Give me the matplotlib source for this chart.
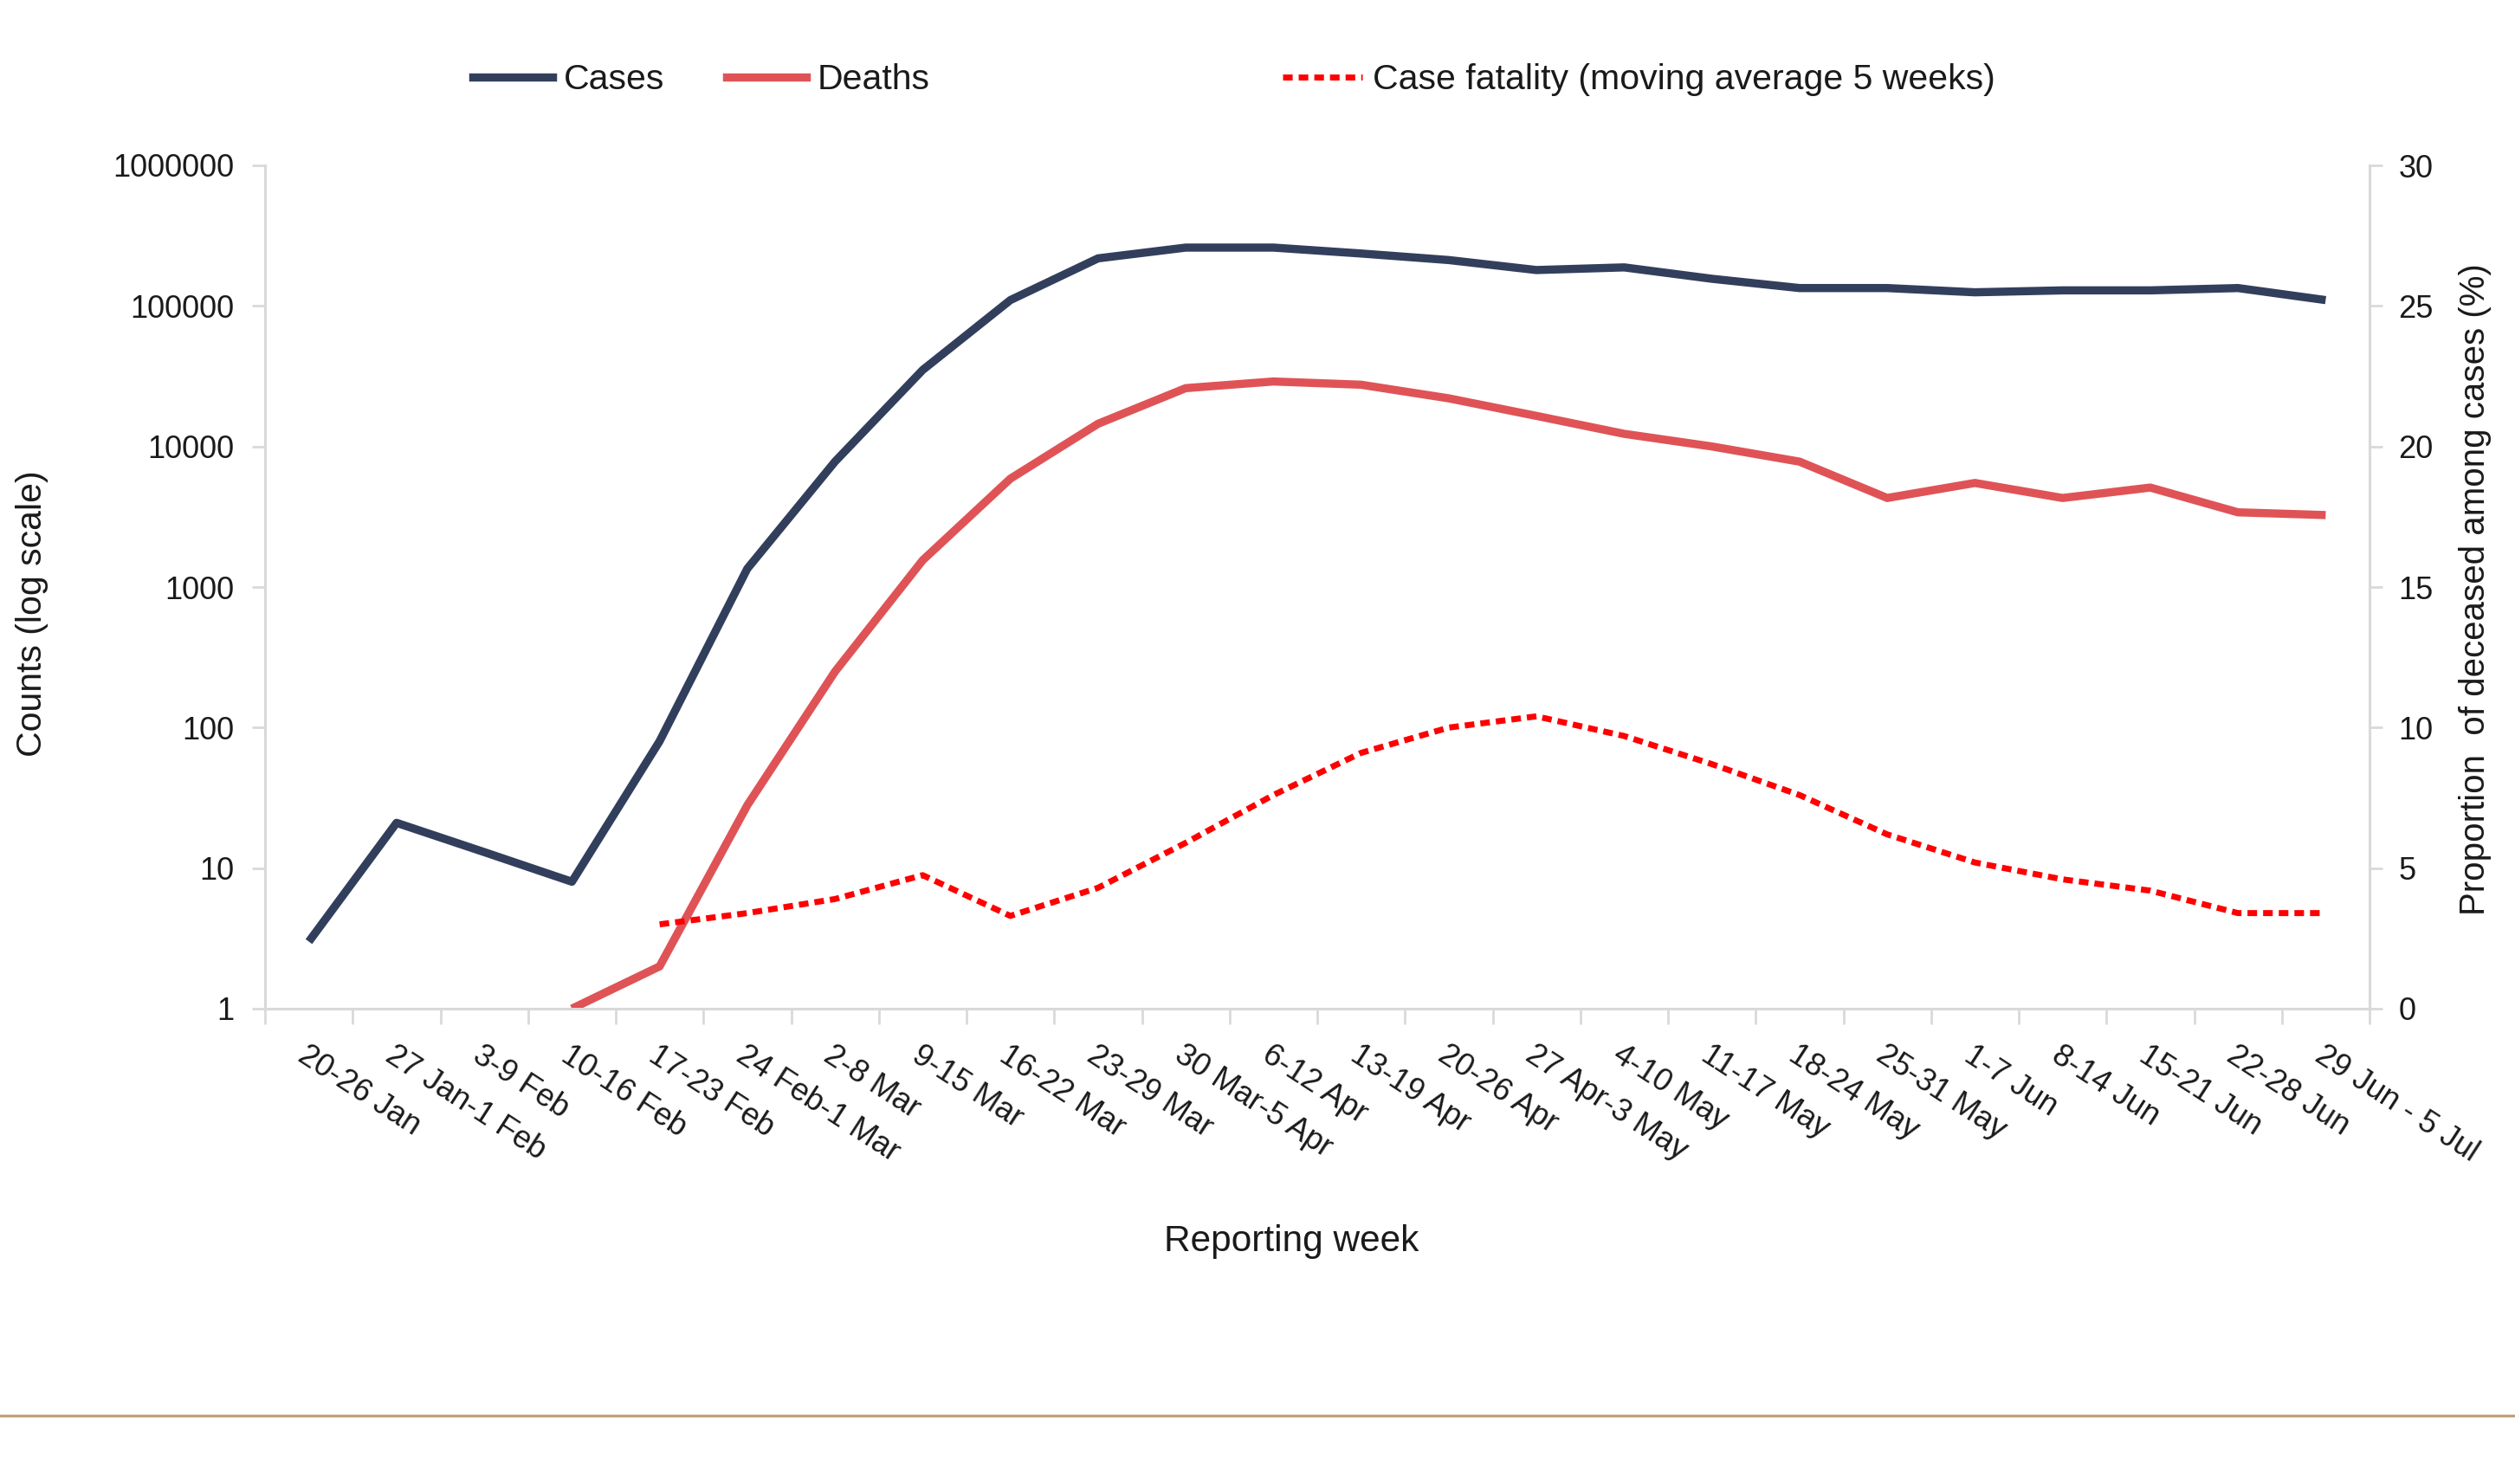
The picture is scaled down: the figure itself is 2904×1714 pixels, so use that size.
import numpy as np
import matplotlib
matplotlib.use("Agg")
import matplotlib.pyplot as plt
from matplotlib.lines import Line2D
from matplotlib.ticker import FixedLocator, FixedFormatter, NullFormatter

plt.rcParams['font.family'] = ['Liberation Sans', 'DejaVu Sans']

weeks = [
    "20-26 Jan", "27 Jan-1 Feb", "3-9 Feb", "10-16 Feb", "17-23 Feb",
    "24 Feb-1 Mar", "2-8 Mar", "9-15 Mar", "16-22 Mar", "23-29 Mar",
    "30 Mar-5 Apr", "6-12 Apr", "13-19 Apr", "20-26 Apr", "27 Apr-3 May",
    "4-10 May", "11-17 May", "18-24 May", "25-31 May", "1-7 Jun",
    "8-14 Jun", "15-21 Jun", "22-28 Jun", "29 Jun - 5 Jul",
]

cases = [3, 21, 13, 8, 80, 1350, 7800, 35000, 110000, 218000,
         260000, 260000, 236000, 212000, 180000, 188000, 156000, 134000,
         134000, 125000, 129000, 129000, 134000, 110000]

deaths = [np.nan, np.nan, np.nan, 1, 2, 28, 250, 1550, 5900, 14500,
          26000, 29000, 27500, 22000, 16500, 12300, 10000, 7800,
          4300, 5500, 4300, 5100, 3400, 3250]

case_fatality = [np.nan, np.nan, np.nan, np.nan, 3.0, 3.4, 3.9, 4.75, 3.3, 4.3,
                 5.9, 7.6, 9.1, 10.0, 10.4, 9.7, 8.7, 7.6,
                 6.2, 5.2, 4.6, 4.2, 3.4, 3.4]

log_ticks = [1, 10, 100, 1000, 10000, 100000, 1000000]
pct_ticks = [0, 5, 10, 15, 20, 25, 30]

navy = "#323F5C"
coral = "#DF5356"
red = "#FF0000"
grey = "#D9D9D9"
txt = "#1A1A1A"

W, H = 2904, 1714
fig = plt.figure(figsize=(W / 100, H / 100), dpi=100)
left, right, top, bottom = 306, 2736, 191, 1165
ax = fig.add_axes([left / W, 1 - bottom / H, (right - left) / W, (bottom - top) / H])
ax2 = ax.twinx()

x = np.arange(len(weeks))

ax.plot(x, deaths, color=coral, lw=6.8, solid_capstyle='butt', zorder=2)
ax.plot(x, cases, color=navy, lw=6.8, solid_capstyle='butt', zorder=3)
ax2.plot(x, case_fatality, color=red, lw=5, dashes=(1.6, 1.0), zorder=4)

ax.set_yscale('log')
ax.set_ylim(1, 1000000)
ax.set_xlim(-0.5, len(weeks) - 0.5)
ax.yaxis.set_major_locator(FixedLocator(log_ticks))
ax.yaxis.set_major_formatter(FixedFormatter([str(v) for v in log_ticks]))
ax.yaxis.set_minor_locator(FixedLocator([]))
ax.yaxis.set_minor_formatter(NullFormatter())

ax2.set_ylim(0, 30)
ax2.set_yticks(pct_ticks)

ax.set_xticks(x)
ax.set_xticklabels(weeks)
ax.set_xticks(np.arange(len(weeks) + 1) - 0.5, minor=True)
ax.tick_params(axis='x', which='major', length=0, pad=26, labelsize=26, labelcolor=txt)
ax.tick_params(axis='x', which='minor', length=13, width=2, color=grey)
plt.setp(ax.get_xticklabels(), rotation=-33, ha='left', va='top', rotation_mode='anchor')

ax.tick_params(axis='y', which='major', length=11, width=2, color=grey, pad=15,
               labelsize=26, labelcolor=txt)
ax2.tick_params(axis='y', which='major', length=11, width=2, color=grey, pad=13,
                labelsize=26, labelcolor=txt)

for sp in ['top', 'right']:
    ax.spines[sp].set_visible(False)
for sp in ['top', 'left', 'bottom']:
    ax2.spines[sp].set_visible(False)
for sp in ['left', 'bottom']:
    ax.spines[sp].set_color(grey)
    ax.spines[sp].set_linewidth(2.2)
ax2.spines['right'].set_color(grey)
ax2.spines['right'].set_linewidth(2.2)

fig.text(37 / W, 1 - 709 / H, "Counts (log scale)", rotation=90,
         ha='center', va='center', fontsize=29.5, color=txt)
fig.text(2858 / W, 1 - 681 / H, "Proportion  of deceased among cases (%)", rotation=90,
         ha='center', va='center', fontsize=29, color=txt)
fig.text(1491 / W, 1 - 1434 / H, "Reporting week",
         ha='center', va='center', fontsize=30.5, color=txt)

# legend entries placed separately like the original
entries = [
    (Line2D([], [], color=navy, lw=6.8), "Cases", 546),
    (Line2D([], [], color=coral, lw=6.8), "Deaths", 839),
    (Line2D([], [], color=red, lw=5, dashes=(1.6, 1.0)),
     "Case fatality (moving average 5 weeks)", 1481),
]
for handle, label, xpos in entries:
    leg = fig.legend([handle], [label], loc='center left',
                     bbox_to_anchor=(xpos / W, 1 - 92 / H),
                     frameon=False, fontsize=29.5, handlelength=2.25,
                     handletextpad=0.3, borderpad=0, borderaxespad=0)
    for t in leg.get_texts():
        t.set_color(txt)

fig.add_artist(Line2D([0, 1], [1 - 1635 / H, 1 - 1635 / H], transform=fig.transFigure,
                      color="#C4A07A", lw=2.4))

fig.savefig("out.png", dpi=100, facecolor='white')
